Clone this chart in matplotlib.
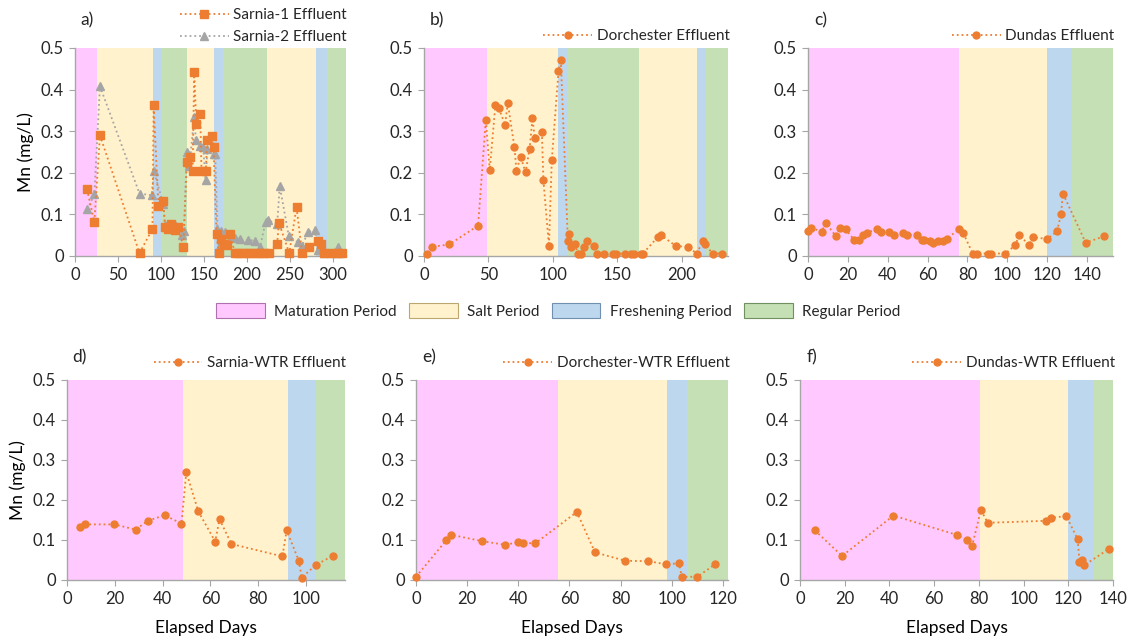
import matplotlib
matplotlib.use("Agg")
import matplotlib.pyplot as plt
from matplotlib.patches import Patch
from matplotlib.ticker import FuncFormatter

plt.rcParams["font.family"] = ["Lato", "DejaVu Sans"]
plt.rcParams["text.color"] = "#262626"

# ── Data ───────────────────────────────────────────────────────────────────
sarnia1_x = [14, 22.5, 29, 75, 90, 91.4, 97, 102.6, 104.5, 108, 112, 116, 120, 126,
             130, 133.6, 136.7, 138.6, 141, 145.6, 147, 152, 153.7, 158.7, 161, 164.5,
             167, 170, 173, 177, 180, 186, 190, 195, 200, 205, 210, 215, 220, 225,
             235, 237, 249, 257.5, 264, 271.6, 282, 286, 290, 297, 305, 310]
sarnia1_y = [0.16, 0.082, 0.29, 0.007, 0.065, 0.362, 0.12, 0.132, 0.07, 0.064, 0.078,
             0.062, 0.07, 0.022, 0.226, 0.238, 0.204, 0.442, 0.318, 0.342, 0.204, 0.204,
             0.278, 0.288, 0.262, 0.054, 0.007, 0.04, 0.028, 0.027, 0.052, 0.007, 0.007,
             0.007, 0.007, 0.007, 0.007, 0.007, 0.007, 0.007, 0.03, 0.08, 0.007, 0.117,
             0.007, 0.022, 0.035, 0.03, 0.007, 0.007, 0.007, 0.007]

sarnia2_x = [14.3, 22.5, 29, 75, 89, 91.8, 102.6, 105, 108, 112, 116, 120, 124, 126.6,
             130, 133, 138.6, 140.5, 145, 149, 151.8, 154, 161, 163, 165.6, 167, 170,
             174, 178, 182, 186, 192, 201, 209, 215, 221.5, 224.5, 235, 238, 248.5,
             259, 264, 271, 279, 282, 290, 300, 305.8, 308]
sarnia2_y = [0.112, 0.148, 0.408, 0.15, 0.146, 0.204, 0.124, 0.074, 0.075, 0.072, 0.074,
             0.07, 0.05, 0.06, 0.25, 0.217, 0.335, 0.278, 0.265, 0.262, 0.183, 0.258,
             0.245, 0.245, 0.066, 0.02, 0.06, 0.058, 0.052, 0.046, 0.044, 0.04, 0.038,
             0.037, 0.022, 0.081, 0.086, 0.076, 0.168, 0.048, 0.033, 0.025, 0.058,
             0.062, 0.014, 0.007, 0.007, 0.022, 0.007]

dorch_x = [2.6, 6.5, 19.7, 42, 48, 51, 55.4, 58, 63, 65, 70.2, 71.8, 75, 78.8, 82,
           84.2, 86, 91.5, 92.7, 97, 99.2, 104.4, 106.2, 111.7, 112.2, 114.2, 117,
           119.7, 121.8, 124, 126.4, 132, 134.5, 139.6, 147, 149, 156, 161, 163, 168.4,
           170, 181.3, 184, 195.6, 205, 211.7, 216.3, 218, 224, 231]
dorch_y = [0.005, 0.022, 0.028, 0.073, 0.328, 0.206, 0.362, 0.356, 0.315, 0.368, 0.262,
           0.205, 0.239, 0.201, 0.258, 0.331, 0.283, 0.299, 0.182, 0.024, 0.23, 0.444,
           0.472, 0.036, 0.054, 0.022, 0.028, 0.006, 0.006, 0.021, 0.037, 0.025, 0.006,
           0.006, 0.006, 0.006, 0.006, 0.006, 0.006, 0.006, 0.006, 0.045, 0.05, 0.024,
           0.022, 0.006, 0.035, 0.029, 0.006, 0.006]

dundas_x = [0, 1.7, 6.9, 8.9, 13.9, 15.9, 18.9, 23.1, 25.8, 27.8, 29.6, 34.6, 36.8,
            40.8, 43, 47.7, 49.8, 54.7, 57, 58.2, 61, 62.9, 65, 67.7, 69.6, 75.8, 77.9,
            82.6, 85, 90.1, 91.8, 99, 104, 106, 110.9, 112.9, 120, 124.9, 126.9, 127.9,
            139.3, 148.3]
dundas_y = [0.059, 0.068, 0.058, 0.08, 0.048, 0.068, 0.064, 0.039, 0.039, 0.051, 0.055,
            0.066, 0.058, 0.058, 0.051, 0.056, 0.05, 0.051, 0.039, 0.039, 0.036, 0.031,
            0.035, 0.035, 0.042, 0.064, 0.055, 0.006, 0.006, 0.006, 0.006, 0.006, 0.026,
            0.051, 0.026, 0.045, 0.041, 0.059, 0.1, 0.15, 0.032, 0.047]

sarnia_wtr_x = [5.6, 7.7, 19.8, 28.7, 33.8, 40.8, 47.9, 49.9, 54.9, 62, 63.8, 68.8,
                90.1, 91.9, 97, 98.2, 104.2, 111.1]
sarnia_wtr_y = [0.132, 0.139, 0.139, 0.126, 0.148, 0.162, 0.141, 0.27, 0.172, 0.096,
                0.152, 0.09, 0.059, 0.124, 0.048, 0.006, 0.038, 0.06]

dorch_wtr_x = [0, 11.8, 13.8, 25.9, 34.9, 39.7, 41.7, 46.7, 62.9, 70, 81.9, 90.9, 97.9,
               102.9, 103.9, 110, 116.9]
dorch_wtr_y = [0.008, 0.099, 0.113, 0.097, 0.088, 0.094, 0.092, 0.092, 0.17, 0.069,
               0.048, 0.047, 0.039, 0.042, 0.008, 0.008, 0.039]

dundas_wtr_x = [6.7, 18.8, 41.8, 70, 74.9, 77, 80.9, 84, 110, 112.1, 119.1, 124.2, 125,
                126.3, 127.2, 138.2]
dundas_wtr_y = [0.124, 0.06, 0.161, 0.113, 0.099, 0.086, 0.175, 0.143, 0.148, 0.155,
                0.16, 0.102, 0.045, 0.05, 0.037, 0.078]

# period boundaries (days) and period sequence per panel
a_bounds = [0, 25.5, 91, 100, 130, 162, 172, 223, 280, 293, 315]
a_periods = ["M", "S", "F", "R", "S", "F", "R", "S", "F", "R"]
b_bounds = [0, 49, 104.4, 112, 167, 211.7, 219, 236]
b_periods = ["M", "S", "F", "R", "S", "F", "R"]
c_bounds = [0, 75.9, 119.9, 132.3, 153]
d_bounds = [0, 48.6, 92.5, 104.2, 116.3]
e_bounds = [0, 55.5, 98.2, 106, 122]
f_bounds = [0, 80.7, 119.7, 131.3, 140]
mscf = ["M", "S", "F", "R"]

period_names = {"M": "Maturation Period", "S": "Salt Period",
                "F": "Freshening Period", "R": "Regular Period"}
period_colors = {"M": "#FFC9FF", "S": "#FFF2CC", "F": "#BDD7EE", "R": "#C5E0B4"}
period_edges = {"M": "#B070B0", "S": "#BBA870", "F": "#7090B0", "R": "#709060"}

ORANGE = "#ED7D31"
GRAY = "#A5A5A5"
AXIS = "#A6A6A6"

W, H = 1134, 641
fig = plt.figure(figsize=(W / 100, H / 100), dpi=100)


def px_axes(l, r, t, b):
    return fig.add_axes([l / W, 1 - b / H, (r - l) / W, (b - t) / H])


def setup(ax, bounds, periods, xmax, xticks, label, label_y,
          ylabel=False, xlabel=False):
    for i, p in enumerate(periods):
        ax.axvspan(bounds[i], bounds[i + 1], color=period_colors[p], lw=0, zorder=0)
    ax.set_xlim(0, xmax)
    ax.set_ylim(0, 0.5)
    ax.set_xticks(xticks)
    ax.set_yticks([0, 0.1, 0.2, 0.3, 0.4, 0.5])
    ax.yaxis.set_major_formatter(FuncFormatter(lambda v, _: "0" if v == 0 else f"{v:.1f}"))
    for s in ["top", "right"]:
        ax.spines[s].set_visible(False)
    for s in ["left", "bottom"]:
        ax.spines[s].set_color(AXIS)
        ax.spines[s].set_linewidth(1.0)
    ax.tick_params(colors=AXIS, labelcolor="#262626", labelsize=12, length=4,
                   direction="out", pad=4)
    ax.text(0.02, label_y, label, transform=ax.transAxes, fontsize=12.5,
            ha="left", va="center")
    if ylabel:
        ax.set_ylabel("Mn (mg/L)", fontsize=12.5, labelpad=5)
    if xlabel:
        ax.set_xlabel("Elapsed Days", fontsize=12.5, labelpad=9)


def series(ax, x, y, color, marker, ms, label):
    ax.plot(x, y, ls=":", lw=1.3, color=color, marker=marker, ms=ms,
            label=label, clip_on=False, zorder=3)


def top_legend(ax, y_anchor=1.0, order=None, spacing=0.3):
    h, l = ax.get_legend_handles_labels()
    if order is not None:
        h = [h[i] for i in order]
        l = [l[i] for i in order]
    ax.legend(h, l, loc="lower right", bbox_to_anchor=(1.02, y_anchor), frameon=False,
              fontsize=11, handlelength=3.2, handletextpad=0.3, borderpad=0.1,
              labelspacing=spacing, borderaxespad=0.2)


# a) Sarnia-1 / Sarnia-2
ax = px_axes(75, 346, 48, 256)
setup(ax, a_bounds, a_periods, 315, range(0, 301, 50), "a)", 1.135, ylabel=True)
series(ax, sarnia2_x, sarnia2_y, GRAY, "^", 5.5, "Sarnia-2 Effluent")
series(ax, sarnia1_x, sarnia1_y, ORANGE, "s", 5.5, "Sarnia-1 Effluent")
top_legend(ax, 0.995, order=[1, 0], spacing=0.55)

# b) Dorchester
ax = px_axes(424, 728, 48, 256)
setup(ax, b_bounds, b_periods, 236, range(0, 201, 50), "b)", 1.135)
series(ax, dorch_x, dorch_y, ORANGE, "o", 5, "Dorchester Effluent")
top_legend(ax)

# c) Dundas
ax = px_axes(808, 1113, 48, 256)
setup(ax, c_bounds, mscf, 153, range(0, 141, 20), "c)", 1.135)
series(ax, dundas_x, dundas_y, ORANGE, "o", 5, "Dundas Effluent")
top_legend(ax)

# d) Sarnia-WTR
ax = px_axes(67, 345, 380, 580)
setup(ax, d_bounds, mscf, 116.3, range(0, 101, 20), "d)", 1.115, ylabel=True, xlabel=True)
series(ax, sarnia_wtr_x, sarnia_wtr_y, ORANGE, "o", 5, "Sarnia-WTR Effluent")
top_legend(ax, 1.025)

# e) Dorchester-WTR
ax = px_axes(416, 728, 380, 580)
setup(ax, e_bounds, mscf, 122, range(0, 121, 20), "e)", 1.115, xlabel=True)
series(ax, dorch_wtr_x, dorch_wtr_y, ORANGE, "o", 5, "Dorchester-WTR Effluent")
top_legend(ax, 1.025)

# f) Dundas-WTR
ax = px_axes(800, 1113, 380, 580)
setup(ax, f_bounds, mscf, 140, range(0, 141, 20), "f)", 1.115, xlabel=True)
series(ax, dundas_wtr_x, dundas_wtr_y, ORANGE, "o", 5, "Dundas-WTR Effluent")
top_legend(ax, 1.025)

# period legend in the middle
handles = [Patch(facecolor=period_colors[k], edgecolor=period_edges[k], lw=0.8,
                 label=period_names[k]) for k in mscf]
fig.legend(handles=handles, loc="center", bbox_to_anchor=(558 / W, 1 - 311 / H), ncol=4,
           frameon=False, fontsize=11, handlelength=3.2, handleheight=1.15,
           handletextpad=0.6, columnspacing=0.8)

fig.savefig("out.png", dpi=100)
